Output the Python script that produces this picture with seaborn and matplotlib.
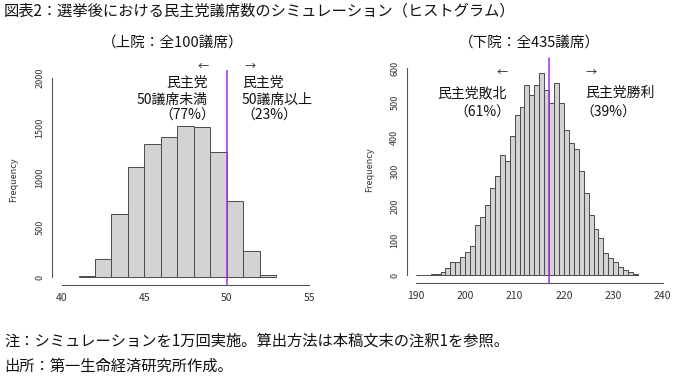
import numpy as np
import pandas as pd
import seaborn as sns
import matplotlib.pyplot as plt

# upper house: seats (bin left edge) and frequency
upper_seats = [41, 42, 43, 44, 45, 46, 47, 48, 49, 50, 51, 52]
upper_freq = [13, 177, 630, 1103, 1332, 1406, 1520, 1507, 1258, 762, 258, 20]

# lower house
lower_seats = list(range(190, 235))
lower_freq = [1, 1, 0, 2, 4, 9, 19, 38, 39, 51, 68, 84, 146, 169, 202, 253,
              286, 348, 331, 404, 464, 488, 551, 523, 551, 586, 536, 500,
              557, 498, 420, 384, 364, 300, 237, 174, 132, 106, 63, 48, 39,
              22, 14, 8, 2]

upper_line = 50
lower_line = 217

title = "図表2：選挙後における民主党議席数のシミュレーション（ヒストグラム）"
sub_upper = "（上院：全100議席）"
sub_lower = "（下院：全435議席）"
note = "注：シミュレーションを1万回実施。算出方法は本稿文末の注釈1を参照。"
source = "出所：第一生命経済研究所作成。"

sns.set_style("white")
plt.rcParams['font.family'] = ['Noto Sans CJK JP', 'DejaVu Sans']

W, H = 680, 379
fig = plt.figure(figsize=(W / 100, H / 100), dpi=100)


def px_axes(x0, y0, x1, y1):
    return fig.add_axes([x0 / W, 1 - y1 / H, (x1 - x0) / W, (y1 - y0) / H])


def r_style(ax, xb, yb, xticks, yticks):
    sns.despine(ax=ax)
    ax.spines['left'].set_bounds(*yb)
    ax.spines['bottom'].set_bounds(*xb)
    for s in ['left', 'bottom']:
        ax.spines[s].set_color('#555555')
        ax.spines[s].set_linewidth(0.8)
    ax.set_xticks(xticks)
    ax.set_yticks(yticks)
    ax.tick_params(axis='both', direction='out', length=4, width=0.8,
                   color='#555555', labelcolor='#333333')
    ax.tick_params(axis='x', labelsize=7.5, pad=2)
    ax.tick_params(axis='y', labelsize=6.5, pad=1.5)
    for lab in ax.get_yticklabels():
        lab.set_rotation(90)
        lab.set_va('center')
    ax.set_xlabel('')
    ax.set_ylabel('')
    ax.grid(False)


hist_kw = dict(color='#D3D3D3', edgecolor='#4a4a4a', linewidth=0.7, alpha=1)

# left: upper house
ax1 = px_axes(52, 70, 319, 285)
up = pd.DataFrame({'seats': upper_seats, 'freq': upper_freq})
sns.histplot(data=up, x='seats', weights='freq',
             bins=list(range(upper_seats[0], upper_seats[-1] + 2)), ax=ax1, **hist_kw)
ax1.set_xlim(39.39, 55.6)
ax1.set_ylim(-80, 2080)
ax1.axvline(upper_line, color='#A030E8', linewidth=1.1)
r_style(ax1, (40, 55), (0, 2000), [40, 45, 50, 55], [0, 500, 1000, 1500, 2000])

tk = dict(fontsize=10, color='#111111', clip_on=False)
ak = dict(ha='center', va='center', fontsize=8, color='#222222', clip_on=False)
ax1.text(48.56, 2110, "←", **ak)
ax1.text(48.86, 1950, "民主党", ha='right', va='center', **tk)
ax1.text(48.86, 1779, "50議席未満", ha='right', va='center', **tk)
ax1.text(47.6, 1622, "（77%）", ha='center', va='center', **tk)
ax1.text(51.4, 2110, "→", **ak)
ax1.text(50.93, 1950, "民主党", ha='left', va='center', **tk)
ax1.text(50.93, 1779, "50議席以上", ha='left', va='center', **tk)
ax1.text(52.6, 1622, "（23%）", ha='center', va='center', **tk)

# right: lower house
ax2 = px_axes(407, 65, 673, 283)
lo = pd.DataFrame({'seats': lower_seats, 'freq': lower_freq})
sns.histplot(data=lo, x='seats', weights='freq',
             bins=list(range(lower_seats[0], lower_seats[-1] + 2)), ax=ax2, **hist_kw)
ax2.set_xlim(188.2, 242.1)
ax2.set_ylim(-23.2, 608.7)
ax2.axvline(lower_line, color='#A030E8', linewidth=1.1, ymin=0, ymax=1.03, clip_on=False)
r_style(ax2, (190, 240), (0, 600), [190, 200, 210, 220, 230, 240],
        [0, 100, 200, 300, 400, 500, 600])

ax2.text(207.4, 585, "←", **ak)
ax2.text(201.4, 527, "民主党敗北", ha='center', va='center', **tk)
ax2.text(203.4, 470, "（61%）", ha='center', va='center', **tk)
ax2.text(225.5, 585, "→", **ak)
ax2.text(231.4, 527, "民主党勝利", ha='center', va='center', **tk)
ax2.text(228.9, 470, "（39%）", ha='center', va='center', **tk)

# y labels
fig.text(14 / W, 1 - 180 / H, "Frequency", rotation=90, fontsize=6.5,
         color='#333333', ha='center', va='center')
fig.text(370 / W, 1 - 170 / H, "Frequency", rotation=90, fontsize=6.5,
         color='#333333', ha='center', va='center')

# titles and notes
fig.text(4 / W, 1 - 11 / H, title, fontsize=11, ha='left', va='center', color='#111111')
fig.text(173 / W, 1 - 43 / H, sub_upper, fontsize=10.5, ha='center', va='center', color='#111111')
fig.text(529 / W, 1 - 43 / H, sub_lower, fontsize=10.5, ha='center', va='center', color='#111111')
fig.text(4 / W, 1 - 341 / H, note, fontsize=11, ha='left', va='center', color='#111111')
fig.text(4 / W, 1 - 366 / H, source, fontsize=11, ha='left', va='center', color='#111111')

fig.savefig('out.png', dpi=100)
